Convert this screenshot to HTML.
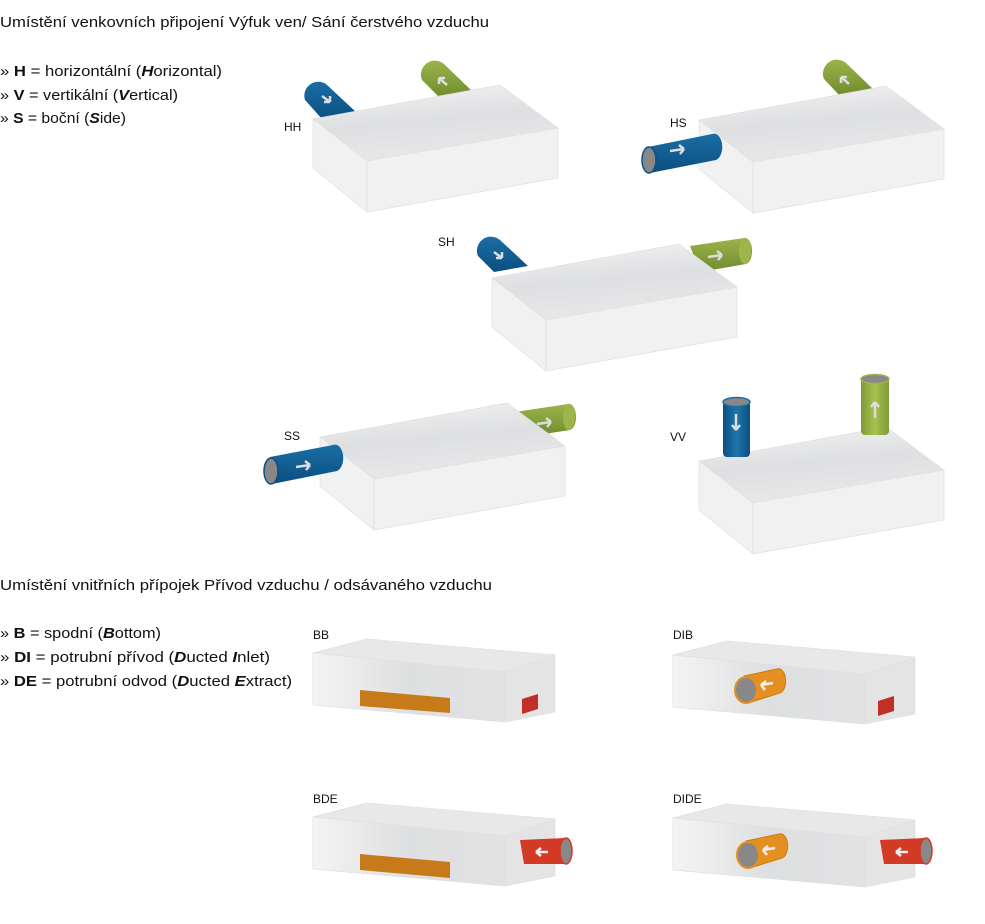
<!DOCTYPE html>
<html><head><meta charset="utf-8"><style>
html,body{margin:0;padding:0;background:#fff;}
svg{display:block;font-family:"Liberation Sans",sans-serif;}
</style></head><body>
<svg width="985" height="924" viewBox="0 0 985 924" xmlns="http://www.w3.org/2000/svg">
<defs>
<linearGradient id="top" x1="0" y1="0" x2="0.3" y2="1">
<stop offset="0" stop-color="#f5f5f5"/><stop offset="0.55" stop-color="#dedfe1"/><stop offset="1" stop-color="#e8e8e9"/></linearGradient>
<linearGradient id="front" x1="0" y1="0" x2="1" y2="0">
<stop offset="0" stop-color="#f4f4f4"/><stop offset="0.5" stop-color="#dedfe0"/><stop offset="1" stop-color="#e2e2e3"/></linearGradient>
<linearGradient id="blue" x1="0" y1="0" x2="0" y2="1"><stop offset="0" stop-color="#1a6ea5"/><stop offset="1" stop-color="#0b4f80"/></linearGradient>
<linearGradient id="green" x1="0" y1="0" x2="0" y2="1"><stop offset="0" stop-color="#9bb44a"/><stop offset="1" stop-color="#6f8b2e"/></linearGradient>
<linearGradient id="bluev" x1="0" y1="0" x2="1" y2="0"><stop offset="0" stop-color="#0b4f80"/><stop offset="0.5" stop-color="#1f75ad"/><stop offset="1" stop-color="#0b4f80"/></linearGradient>
<linearGradient id="greenv" x1="0" y1="0" x2="1" y2="0"><stop offset="0" stop-color="#7e9b35"/><stop offset="0.5" stop-color="#a6c150"/><stop offset="1" stop-color="#7e9b35"/></linearGradient>
<g id="box">
<polygon points="0,0 187,-34 245,9 54,42" fill="url(#top)" stroke="#e0e0e0" stroke-width="0.7"/>
<polygon points="0,0 54,42 54,93 0,49" fill="#f1f1f1" stroke="#e0e0e0" stroke-width="0.7"/>
<polygon points="54,42 245,9 245,59 54,93" fill="#f1f1f2" stroke="#e0e0e0" stroke-width="0.7"/>
</g>
<g id="flat">
<polygon points="0,0 54,-14 242,2 192,19" fill="#e8e8e9" stroke="#e0e0e0" stroke-width="0.7"/>
<polygon points="0,0 192,19 192,69 0,52" fill="url(#front)" stroke="#e0e0e0" stroke-width="0.7"/>
<polygon points="192,19 242,2 242,59 192,69" fill="#e4e4e5" stroke="#e0e0e0" stroke-width="0.7"/>
</g>
</defs>

<g fill="#111" font-size="15">
<text x="0" y="27" textLength="489" lengthAdjust="spacingAndGlyphs">Umístění venkovních připojení Výfuk ven/ Sání čerstvého vzduchu</text>
<text x="0" y="76" textLength="222" lengthAdjust="spacingAndGlyphs">» <tspan font-weight="bold">H</tspan> = horizontální (<tspan font-weight="bold" font-style="italic">H</tspan>orizontal)</text>
<text x="0" y="100" textLength="178" lengthAdjust="spacingAndGlyphs">» <tspan font-weight="bold">V</tspan> = vertikální (<tspan font-weight="bold" font-style="italic">V</tspan>ertical)</text>
<text x="0" y="123" textLength="126" lengthAdjust="spacingAndGlyphs">» <tspan font-weight="bold">S</tspan> = boční (<tspan font-weight="bold" font-style="italic">S</tspan>ide)</text>
<text x="0" y="590" textLength="492" lengthAdjust="spacingAndGlyphs">Umístění vnitřních přípojek Přívod vzduchu / odsávaného vzduchu</text>
<text x="0" y="638" textLength="161" lengthAdjust="spacingAndGlyphs">» <tspan font-weight="bold">B</tspan> = spodní (<tspan font-weight="bold" font-style="italic">B</tspan>ottom)</text>
<text x="0" y="662" textLength="270" lengthAdjust="spacingAndGlyphs">» <tspan font-weight="bold">DI</tspan> = potrubní přívod (<tspan font-weight="bold" font-style="italic">D</tspan>ucted <tspan font-weight="bold" font-style="italic">I</tspan>nlet)</text>
<text x="0" y="686" textLength="292" lengthAdjust="spacingAndGlyphs">» <tspan font-weight="bold">DE</tspan> = potrubní odvod (<tspan font-weight="bold" font-style="italic">D</tspan>ucted <tspan font-weight="bold" font-style="italic">E</tspan>xtract)</text>
</g>
<g fill="#111" font-size="12">
<text x="284" y="131">HH</text><text x="670" y="127">HS</text><text x="438" y="246">SH</text>
<text x="284" y="440">SS</text><text x="670" y="441">VV</text>
<text x="313" y="639">BB</text><text x="673" y="639">DIB</text>
<text x="313" y="803">BDE</text><text x="673" y="803">DIDE</text>
</g>

<!-- HH -->
<path d="M305,100 A14,14 0 0 1 326,84 L357,113 L323,120 Z" fill="url(#blue)"/>
<path d="M322,96 l8,6 M330,102 l-6,0 M330,102 l0,-6" stroke="#ddd" stroke-width="2.5" fill="none"/>
<path d="M422,80 A14,14 0 0 1 444,64 L474,93 L440,98 Z" fill="url(#green)"/>
<path d="M447,85 l-8,-7 M439,78 l6,0 M439,78 l0,6" stroke="#ddd" stroke-width="2.5" fill="none"/>
<use href="#box" x="313" y="119"/>

<!-- HS -->
<path d="M824,79 A14,14 0 0 1 846,63 L874,90 L840,96 Z" fill="url(#green)"/>
<path d="M849,84 l-8,-7 M841,77 l6,0 M841,77 l0,6" stroke="#ddd" stroke-width="2.5" fill="none"/>
<use href="#box" x="699" y="120"/>
<path d="M648,147 L712,134 A8,13 0 0 1 716,160 L650,173 Z" fill="url(#blue)"/>
<ellipse cx="649" cy="160" rx="7" ry="13" fill="#888" stroke="#0b4f80" stroke-width="1.5"/>
<path d="M670,151 l14,-2 M684,149 l-5,-4 M684,149 l-4,5" stroke="#ddd" stroke-width="2.5" fill="none"/>

<!-- SH -->
<path d="M478,256 A14,14 0 0 1 500,240 L528,266 L494,272 Z" fill="url(#blue)"/>
<path d="M494,252 l8,6 M502,258 l-6,0 M502,258 l0,-6" stroke="#ddd" stroke-width="2.5" fill="none"/>
<path d="M690,246 L744,238 A7,13 0 0 1 746,264 L700,272 Z" fill="url(#green)"/>
<ellipse cx="745" cy="251" rx="6" ry="13" fill="#9db54b"/>
<path d="M708,257 l14,-2 M722,255 l-5,-4 M722,255 l-4,5" stroke="#ddd" stroke-width="2.5" fill="none"/>
<use href="#box" x="492" y="278"/>

<!-- SS -->
<path d="M515,412 L568,404 A7,13 0 0 1 570,430 L525,437 Z" fill="url(#green)"/>
<ellipse cx="569" cy="417" rx="6" ry="13" fill="#9db54b"/>
<path d="M537,424 l14,-2 M551,422 l-5,-4 M551,422 l-4,5" stroke="#ddd" stroke-width="2.5" fill="none"/>
<use href="#box" x="320" y="437"/>
<path d="M270,457 L333,445 A8,13 0 0 1 337,471 L272,484 Z" fill="url(#blue)"/>
<ellipse cx="271" cy="471" rx="7" ry="13" fill="#888" stroke="#0b4f80" stroke-width="1.5"/>
<path d="M296,467 l14,-2 M310,465 l-5,-4 M310,465 l-4,5" stroke="#ddd" stroke-width="2.5" fill="none"/>

<!-- VV -->
<use href="#box" x="699" y="461"/>
<rect x="723" y="401" width="27" height="56" rx="4" fill="url(#bluev)"/>
<ellipse cx="736.5" cy="402" rx="13.5" ry="4.5" fill="#888" stroke="#1a6ea5" stroke-width="1.5"/>
<path d="M736,414 l0,16 M736,430 l-4,-5 M736,430 l4,-5" stroke="#ddd" stroke-width="2.5" fill="none"/>
<rect x="861" y="378" width="28" height="57" rx="4" fill="url(#greenv)"/>
<ellipse cx="875" cy="379" rx="14" ry="4.5" fill="#888" stroke="#9db54b" stroke-width="1.5"/>
<path d="M875,418 l0,-16 M875,402 l-4,5 M875,402 l4,5" stroke="#ddd" stroke-width="2.5" fill="none"/>

<!-- BB -->
<use href="#flat" x="313" y="653"/>
<polygon points="360,690 450,698 450,713 360,706" fill="#c77a1a"/>
<polygon points="522,699 538,694 538,709 522,714" fill="#c03026"/>
<!-- DIB -->
<use href="#flat" x="673" y="655"/>
<polygon points="878,701 894,696 894,711 878,716" fill="#c03026"/>
<path d="M744,676 L777,669 A7,12 0 0 1 780,693 L748,703 Z" fill="#e58f20" stroke="#d07810" stroke-width="1"/>
<ellipse cx="746" cy="690" rx="11" ry="13" fill="#888" stroke="#e58f20" stroke-width="2"/>
<path d="M773,683 l-12,2 M761,685 l5,-4 M761,685 l4,5" stroke="#eee" stroke-width="2.5" fill="none"/>
<!-- BDE -->
<use href="#flat" x="313" y="817"/>
<polygon points="360,854 450,862 450,878 360,870" fill="#c77a1a"/>
<path d="M520,840 L565,838 A6,13 0 0 1 566,864 L524,864 Z" fill="#d23a26"/>
<ellipse cx="566" cy="851" rx="6" ry="13" fill="#888" stroke="#d23a26" stroke-width="1.5"/>
<path d="M548,852 l-12,0 M536,852 l5,-4 M536,852 l5,4" stroke="#eee" stroke-width="2.5" fill="none"/>
<!-- DIDE -->
<use href="#flat" x="673" y="818"/>
<path d="M746,841 L779,834 A7,12 0 0 1 782,858 L750,868 Z" fill="#e58f20" stroke="#d07810" stroke-width="1"/>
<ellipse cx="748" cy="855" rx="11" ry="13" fill="#888" stroke="#e58f20" stroke-width="2"/>
<path d="M775,848 l-12,2 M763,850 l5,-4 M763,850 l4,5" stroke="#eee" stroke-width="2.5" fill="none"/>
<path d="M880,840 L925,838 A6,13 0 0 1 926,864 L884,864 Z" fill="#d23a26"/>
<ellipse cx="926" cy="851" rx="6" ry="13" fill="#888" stroke="#d23a26" stroke-width="1.5"/>
<path d="M908,852 l-12,0 M896,852 l5,-4 M896,852 l5,4" stroke="#eee" stroke-width="2.5" fill="none"/>
</svg>
</body></html>
